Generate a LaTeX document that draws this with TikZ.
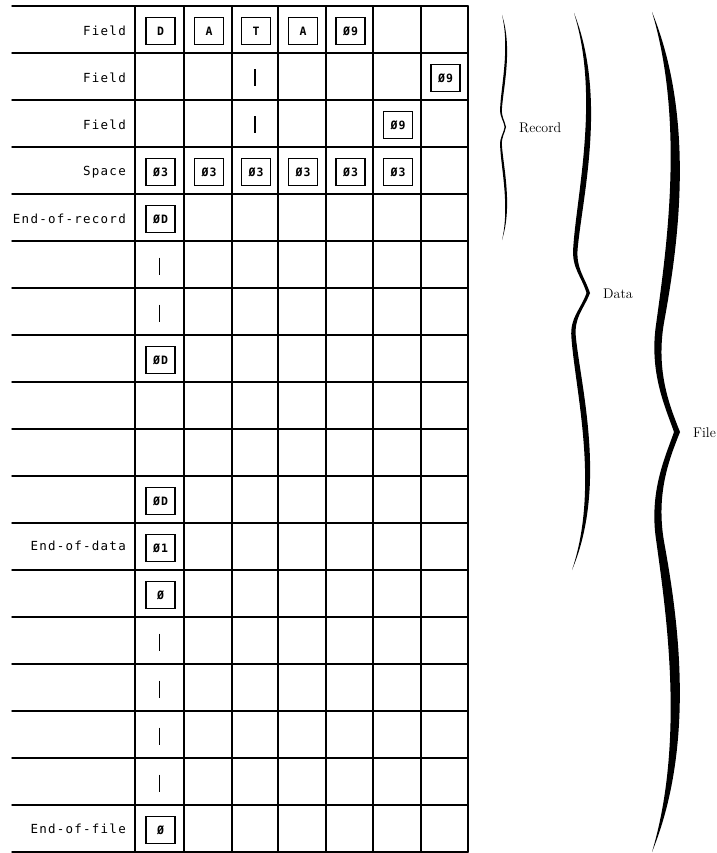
\documentclass[tikz,border=0pt]{standalone}
\usepackage{fontspec}
\newfontfamily\lblfont[LetterSpace=10]{DejaVu Sans Mono}
\newfontfamily\boxfont[LetterSpace=10]{DejaVu Sans Mono}
\tikzset{
  gridline/.style={line width=1.4pt, line cap=round},
  lbl/.style={anchor=east, inner sep=0pt, font=\lblfont\fontsize{12.5}{13}\selectfont},
  cellbox/.style={draw, line width=1.2pt, minimum width=29pt, minimum height=27pt, inner sep=0pt,
                  font=\boxfont\bfseries\fontsize{11.5}{12}\selectfont},
  barmark/.style={line width=1.7pt},
  bracelbl/.style={anchor=west, inner sep=0pt, font=\fontsize{14}{16}\selectfont},
  bracefill/.style={fill=black}
}
% #1 row, #2 column, #3 text
\newcommand\cbox[3]{\node[cellbox, xshift=1pt, yshift=-1.5pt] (b-#1-#2) at (c#2 |- r#1) {#3};}
\newcommand\vbar[2]{\path (c#2 |- r#1) coordinate (v-#1-#2);
  \draw[barmark] ([yshift=7pt]v-#1-#2) -- ([yshift=-10pt]v-#1-#2);}
% #1 x0, #2 yEnd, #3 L (signed, toward tip), #4 D (tip offset), #5 W (thickness),
% #6 b (bulge control), #7 p (second control), #8 m (waist offset), #9 w (waist position)
\newcommand\halfbrace[9]{%
  \pgfmathsetmacro\hbdv{0.45*(1-(#9))}%
  \pgfmathsetmacro\hbq{(#8)+\hbdv/(0.226*(#9))*((#8)-(#7))}%
  \fill[bracefill] (#1,#2)
   .. controls ({#1+(#6)*(#4)+0.5*(#5)},{#2+0.357*(#9)*(#3)}) and ({#1+(#7)*(#4)+0.45*(#5)},{#2+0.774*(#9)*(#3)})
   .. ({#1+(#8)*(#4)+0.32*(#5)},{#2+(#9)*(#3)})
   .. controls ({#1+\hbq*(#4)+0.28*(#5)},{#2+((#9)+\hbdv)*(#3)}) and ({#1+0.6*(#4)+0.1*(#5)},{#2+0.94*(#3)})
   .. ({#1+(#4)},{#2+(#3)})
   -- ({#1+(#4)-0.5*(#5)},{#2+(#3)})
   .. controls ({#1+0.6*(#4)-0.3*(#5)},{#2+0.94*(#3)}) and ({#1+\hbq*(#4)-0.3*(#5)},{#2+((#9)+\hbdv)*(#3)})
   .. ({#1+(#8)*(#4)-0.32*(#5)},{#2+(#9)*(#3)})
   .. controls ({#1+(#7)*(#4)-0.45*(#5)},{#2+0.774*(#9)*(#3)}) and ({#1+(#6)*(#4)-0.5*(#5)},{#2+0.357*(#9)*(#3)})
   .. (#1,#2) -- cycle;}
\begin{document}
\begin{tikzpicture}[x=1pt,y=-1pt]
\useasboundingbox (0,0) rectangle (716,853);
% reference coordinates for rows and columns
\foreach \k in {1,...,18} \coordinate (r\k) at (0,{29.5+47*(\k-1)});
\foreach \x [count=\i] in {159.5,208,255,302,349.5,397,444.5} \coordinate (c\i) at (\x,0);
% grid
\foreach \k in {0,...,18} \draw[gridline] (12,{6+47*\k}) -- (468,{6+47*\k});
\foreach \x in {135,184,232,278,326,373,421,468} \draw[gridline] (\x,6) -- (\x,852);
% row labels
\node[lbl] (lab1) at (126,31) {Field};
\node[lbl] (lab2) at (126,78) {Field};
\node[lbl] (lab3) at (126,125) {Field};
\node[lbl] (lab4) at (126,172) {Space};
\node[lbl] (lab5) at (126,219) {End-of-record};
\node[lbl] (lab12) at (126,546) {End-of-data};
\node[lbl] (lab18) at (126,829) {End-of-file};
% cell contents
\cbox{1}{1}{D}\cbox{1}{2}{A}\cbox{1}{3}{T}\cbox{1}{4}{A}\cbox{1}{5}{Ø9}
\vbar{2}{3}\cbox{2}{7}{Ø9}
\vbar{3}{3}\cbox{3}{6}{Ø9}
\cbox{4}{1}{Ø3}\cbox{4}{2}{Ø3}\cbox{4}{3}{Ø3}\cbox{4}{4}{Ø3}\cbox{4}{5}{Ø3}\cbox{4}{6}{Ø3}
\cbox{5}{1}{ØD}
\vbar{6}{1}
\vbar{7}{1}
\cbox{8}{1}{ØD}
\cbox{11}{1}{ØD}
\cbox{12}{1}{Ø1}
\cbox{13}{1}{Ø}
\vbar{14}{1}\vbar{15}{1}\vbar{16}{1}\vbar{17}{1}
\cbox{18}{1}{Ø}
% braces
\halfbrace{502}{15}{112}{4}{2.8}{2.35}{0.0}{-0.25}{0.84}
\halfbrace{502}{240}{-113}{4}{2.8}{2.35}{0.0}{-0.25}{0.84}
\halfbrace{574}{13}{280}{16}{7}{1.85}{0.35}{0.09}{0.84}
\halfbrace{572}{570}{-277}{18}{7}{1.75}{0.35}{0.09}{0.84}
\halfbrace{652}{12}{420}{28}{12}{1.4}{0.69}{0.29}{0.74}
\halfbrace{652}{852}{-420}{28}{12}{1.4}{0.69}{0.29}{0.74}
\node[bracelbl] (rec) at (519,128) {Record};
\node[bracelbl] (dat) at (603,294) {Data};
\node[bracelbl] (fil) at (693,433) {File};
\end{tikzpicture}
\end{document}
